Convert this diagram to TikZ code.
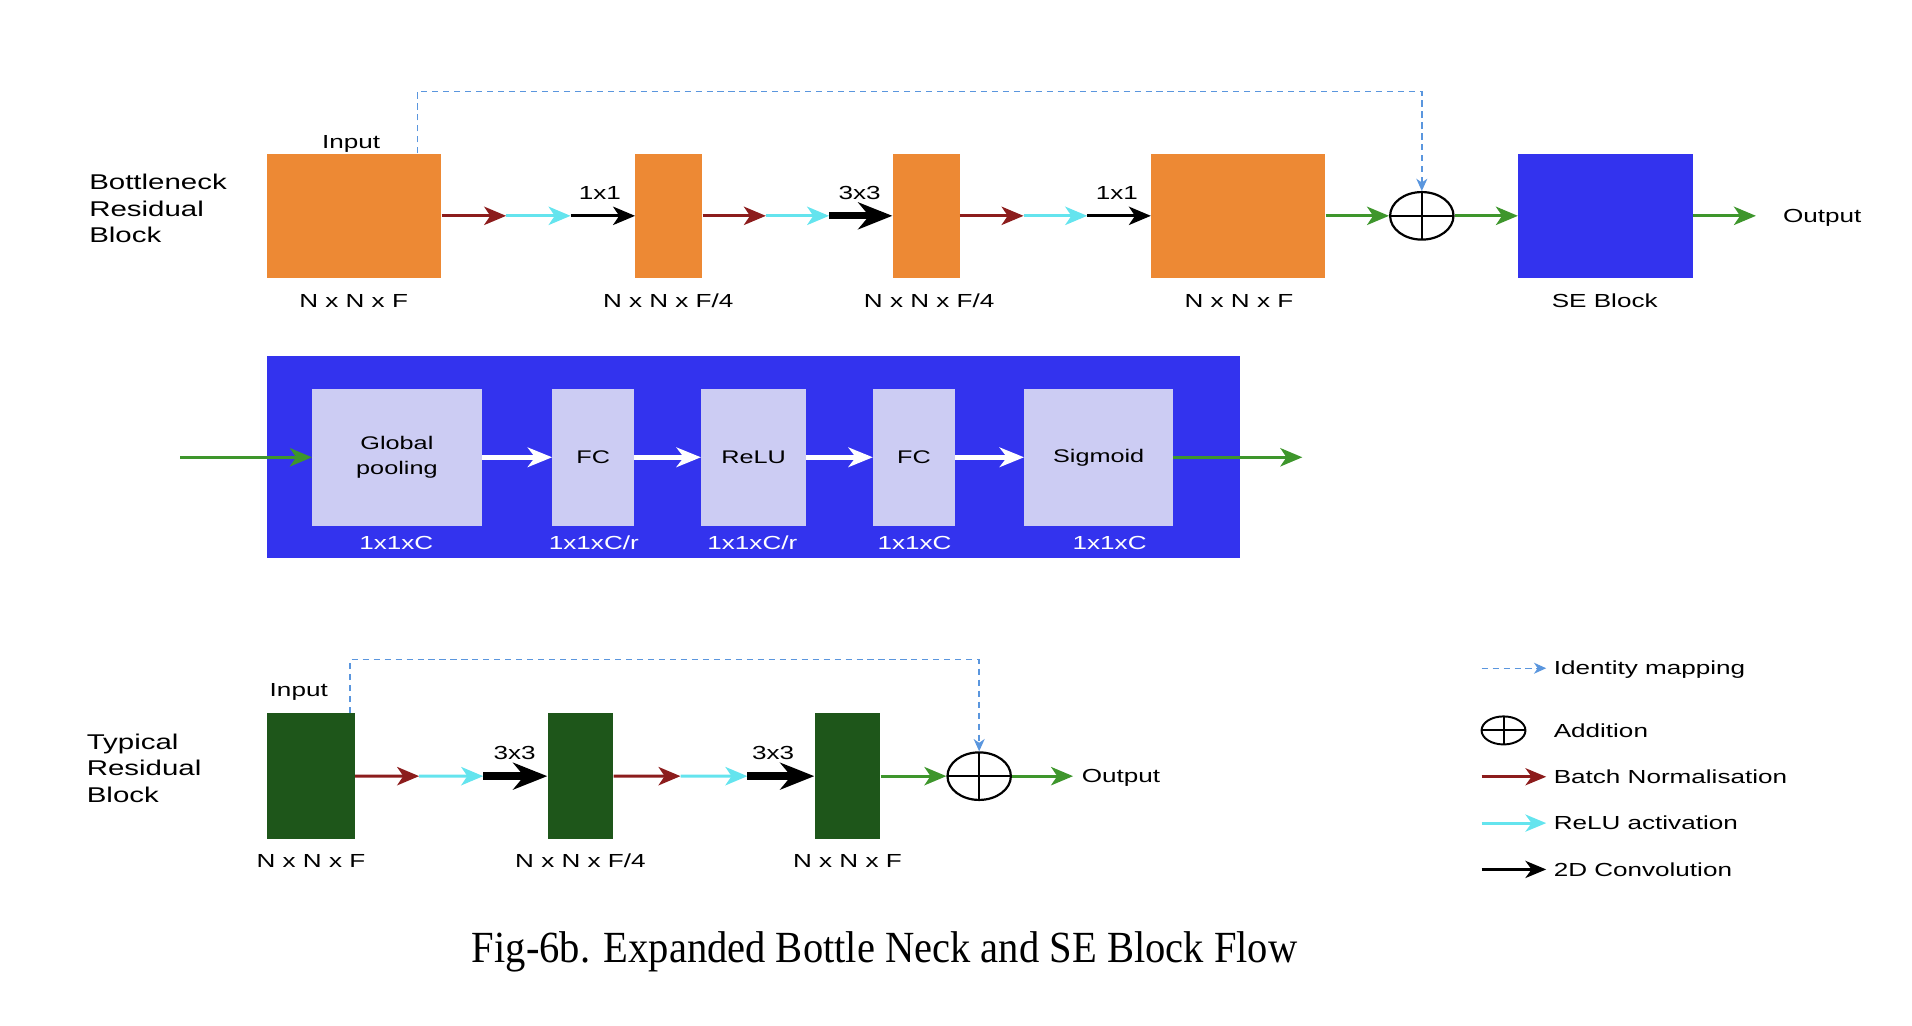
\documentclass[tikz,border=0pt]{standalone}
\usepackage{fontspec}
\setmainfont{Liberation Sans}
\newfontfamily\dfont[FakeStretch=1.38]{Liberation Sans}
\newfontfamily\cfont[FakeStretch=0.911]{Liberation Serif}
\usetikzlibrary{arrows.meta,calc,shapes.geometric}
\definecolor{borange}{RGB}{237,137,52}
\definecolor{seblue}{RGB}{51,51,238}
\definecolor{lav}{RGB}{204,204,243}
\definecolor{dgreen}{RGB}{30,86,26}
\definecolor{bnred}{RGB}{140,28,28}
\definecolor{relucyan}{RGB}{100,228,238}
\definecolor{agreen}{RGB}{62,150,44}
\definecolor{idblue}{RGB}{90,150,222}
\begin{document}
\begin{tikzpicture}[x=1pt,y=-1pt,
  blk/.style={draw=none,inner sep=0pt,minimum height=102pt},
  inbox/.style={draw=none,fill=lav,inner sep=0pt,minimum height=112pt,
    font=\dfont\fontsize{15}{20}\selectfont,align=center},
  addn/.style={draw=black,line width=1.8pt,ellipse,inner sep=0pt,fill=white,
    path picture={\draw[line width=1.6pt]
      (path picture bounding box.north) -- (path picture bounding box.south)
      (path picture bounding box.west) -- (path picture bounding box.east);}},
  lbl/.style={font=\dfont\fontsize{15.5}{18}\selectfont,inner sep=0pt,
    text height=11pt,text depth=0pt},
  wlbl/.style={lbl,text=white},
  ttl/.style={font=\dfont\fontsize{17.5}{21.5}\selectfont,align=left,
    inner sep=0pt,anchor=west},
  tip/.style={-{Stealth[length=18pt,width=15pt,inset=5pt]}},
  bn/.style={tip,draw=bnred,line width=2.6pt},
  relu/.style={tip,draw=relucyan,line width=2.6pt},
  conv/.style={tip,draw=black,line width=2.6pt},
  convt/.style={-{Stealth[length=28pt,width=22pt,inset=9pt]},draw=black,line width=6pt},
  garr/.style={tip,draw=agreen,line width=2.6pt},
  warr/.style={-{Stealth[length=20pt,width=16pt,inset=6pt]},draw=white,line width=4pt},
  ident/.style={draw=idblue,line width=1.2pt,dash pattern=on 5pt off 4pt,
    -{Stealth[length=10pt,width=9pt,inset=3pt]}},
  lgtip/.style={-{Stealth[length=17pt,width=14pt,inset=5pt]}},
]
\useasboundingbox (0,0) rectangle (1568,841.4);

% ---------------- Bottleneck residual block ----------------
\node[ttl] (t1) at (73,171) {Bottleneck\\Residual\\Block};
\node[blk,fill=borange,minimum width=143pt] (b1) at (290.5,177) {};
\node[blk,fill=borange,minimum width=55pt] (b2) at (548.5,177) {};
\node[blk,fill=borange,minimum width=55pt] (b3) at (759.5,177) {};
\node[blk,fill=borange,minimum width=143pt] (b4) at (1015.5,177) {};
\node[addn,minimum width=52pt,minimum height=39pt] (add1) at (1166,177) {};
\node[blk,fill=seblue,minimum width=143pt] (se) at (1316.5,177) {};
\node[lbl,anchor=west] (out1) at (1462,177) {Output};
\coordinate (o1) at (1440,177);

\node[lbl] (in1) at (288,116) {Input};
\node[lbl] (d1) at (290,247) {N x N x F};
\node[lbl] (d2) at (548,247) {N x N x F/4};
\node[lbl] (d3) at (762,247) {N x N x F/4};
\node[lbl] (d4) at (1016,247) {N x N x F};
\node[lbl] (d5) at (1316,247) {SE Block};

\coordinate (a1) at ($(b1.east)!1/3!(b2.west)$);
\coordinate (a2) at ($(b1.east)!2/3!(b2.west)$);
\draw[bn] (b1.east) -- (a1);
\draw[relu] (a1) -- (a2);
\draw[conv] (a2) -- (b2.west);
\node[lbl] (k1) at (492,158) {1x1};

\coordinate (a3) at ($(b2.east)!1/3!(b3.west)$);
\coordinate (a4) at ($(b2.east)!2/3!(b3.west)$);
\draw[bn] (b2.east) -- (a3);
\draw[relu] (a3) -- (a4);
\draw[convt] (a4) -- (b3.west);
\node[lbl] (k2) at (705,158) {3x3};

\coordinate (a5) at ($(b3.east)!1/3!(b4.west)$);
\coordinate (a6) at ($(b3.east)!2/3!(b4.west)$);
\draw[bn] (b3.east) -- (a5);
\draw[relu] (a5) -- (a6);
\draw[conv] (a6) -- (b4.west);
\node[lbl] (k3) at (916,158) {1x1};

\draw[garr] (b4.east) -- (add1.west);
\draw[garr] (add1.east) -- (se.west);
\draw[garr] (se.east) -- (o1);

\coordinate (s1) at ([xshift=-20pt]b1.north east);
\coordinate (u1) at (1166,75);
\draw[ident] (s1) |- (u1) -- (add1.north);

% ---------------- SE block ----------------
\node[draw=none,fill=seblue,inner sep=0pt,minimum width=798pt,minimum height=166pt] (panel) at (618,375) {};
\node[inbox,minimum width=139pt] (gp) at (325.5,375) {Global\\pooling};
\node[inbox,minimum width=67pt] (fc1) at (486.5,375) {FC};
\node[inbox,minimum width=86pt] (rl) at (618,375) {ReLU};
\node[inbox,minimum width=67pt] (fc2) at (749.5,375) {FC};
\node[inbox,minimum width=122pt] (sg) at (901,375) {Sigmoid};
\draw[warr] (gp.east) -- (fc1.west);
\draw[warr] (fc1.east) -- (rl.west);
\draw[warr] (rl.east) -- (fc2.west);
\draw[warr] (fc2.east) -- (sg.west);
\coordinate (gin) at (148,375);
\coordinate (gout) at (1068,375);
\draw[garr] (gin) -- (gp.west);
\draw[garr] (sg.east) -- (gout);
\node[wlbl] (e1) at (325,445) {1x1xC};
\node[wlbl] (e2) at (487,445) {1x1xC/r};
\node[wlbl] (e3) at (617,445) {1x1xC/r};
\node[wlbl] (e4) at (750,445) {1x1xC};
\node[wlbl] (e5) at (910,445) {1x1xC};

% ---------------- Typical residual block ----------------
\node[ttl] (t2) at (71,630) {Typical\\Residual\\Block};
\node[blk,fill=dgreen,minimum width=72pt,minimum height=103pt] (g1) at (255,636.5) {};
\node[blk,fill=dgreen,minimum width=54pt,minimum height=103pt] (g2) at (476,636.5) {};
\node[blk,fill=dgreen,minimum width=54pt,minimum height=103pt] (g3) at (695,636.5) {};
\node[addn,minimum width=52pt,minimum height=39pt] (add2) at (803,636.5) {};
\node[lbl,anchor=west] (out2) at (887,636.5) {Output};
\coordinate (o2) at (880,636.5);

\node[lbl] (in2) at (245,566) {Input};
\node[lbl] (f1) at (255,706) {N x N x F};
\node[lbl] (f2) at (476,706) {N x N x F/4};
\node[lbl] (f3) at (695,706) {N x N x F};

\coordinate (c1) at ($(g1.east)!1/3!(g2.west)$);
\coordinate (c2) at ($(g1.east)!2/3!(g2.west)$);
\draw[bn] (g1.east) -- (c1);
\draw[relu] (c1) -- (c2);
\draw[convt] (c2) -- (g2.west);
\node[lbl] (k4) at (422,617) {3x3};

\coordinate (c3) at ($(g2.east)!1/3!(g3.west)$);
\coordinate (c4) at ($(g2.east)!2/3!(g3.west)$);
\draw[bn] (g2.east) -- (c3);
\draw[relu] (c3) -- (c4);
\draw[convt] (c4) -- (g3.west);
\node[lbl] (k5) at (634,617) {3x3};

\draw[garr] (g3.east) -- (add2.west);
\draw[garr] (add2.east) -- (o2);

\coordinate (s2) at ([xshift=-4pt]g1.north east);
\coordinate (u2) at (803,541);
\draw[ident] (s2) |- (u2) -- (add2.north);

% ---------------- Legend ----------------
\coordinate (l1a) at (1215,548); \coordinate (l1b) at (1268,548);
\coordinate (l3a) at (1215,637); \coordinate (l3b) at (1268,637);
\coordinate (l4a) at (1215,675); \coordinate (l4b) at (1268,675);
\coordinate (l5a) at (1215,713); \coordinate (l5b) at (1268,713);
\draw[ident,line width=1pt] (l1a) -- (l1b);
\node[addn,line width=1.6pt,minimum width=36pt,minimum height=23pt] (add3) at (1233,599) {};
\draw[lgtip,draw=bnred,line width=2.4pt] (l3a) -- (l3b);
\draw[lgtip,draw=relucyan,line width=2.4pt] (l4a) -- (l4b);
\draw[lgtip,draw=black,line width=2.4pt] (l5a) -- (l5b);
\node[lbl,anchor=west] (m1) at (1274,548) {Identity mapping};
\node[lbl,anchor=west] (m2) at (1274,599) {Addition};
\node[lbl,anchor=west] (m3) at (1274,637) {Batch Normalisation};
\node[lbl,anchor=west] (m4) at (1274,675) {ReLU activation};
\node[lbl,anchor=west] (m5) at (1274,713) {2D Convolution};

% ---------------- Caption ----------------
\node[font=\cfont\fontsize{36.5}{40}\selectfont,inner sep=0pt,text height=24pt,text depth=0pt]
  (cap) at (725.5,777) {Fig-6b. Expanded Bottle Neck and SE Block Flow};
\end{tikzpicture}
\end{document}
